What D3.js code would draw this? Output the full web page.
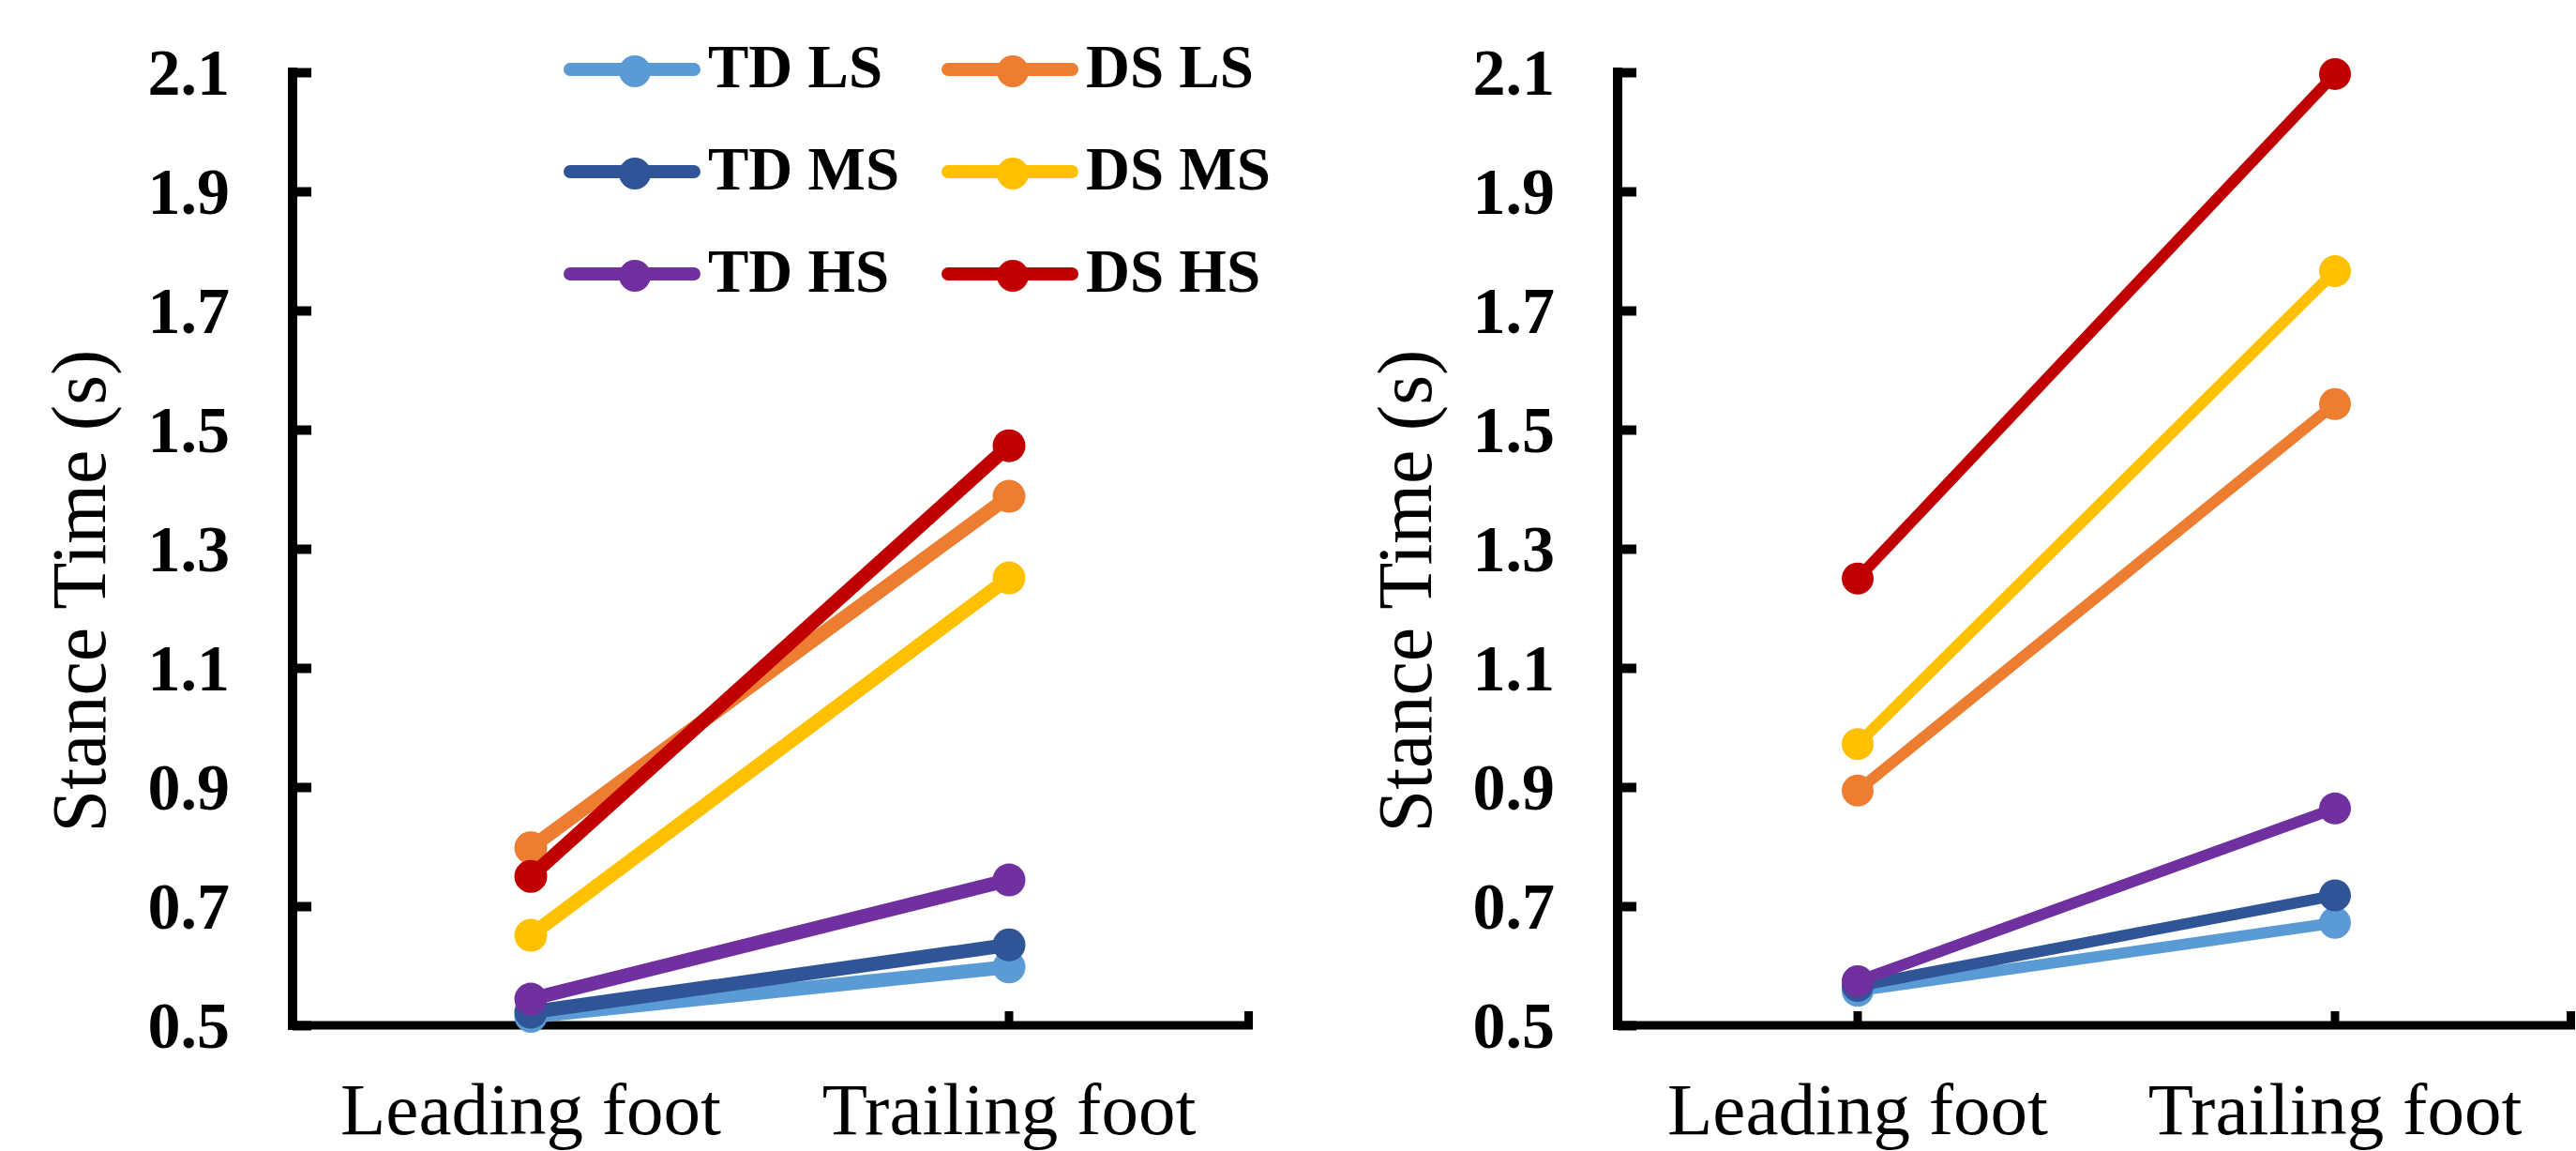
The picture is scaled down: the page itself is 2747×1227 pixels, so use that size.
<!DOCTYPE html>
<html>
<head>
<meta charset="utf-8">
<script src="https://cdn.jsdelivr.net/npm/d3@7"></script>
<style>
  html, body { margin: 0; padding: 0; background: #ffffff; }
  svg { display: block; }
  text { font-family: "Liberation Serif", "Times New Roman", Times, serif; fill: #000; }
</style>
</head>
<body>
<svg id="chart" width="2747" height="1227"></svg>
<script>
// ---------- data ----------
const categories = ["Leading foot", "Trailing foot"];
const seriesNames = ["TD LS", "DS LS", "TD MS", "DS MS", "TD HS", "DS HS"];
const seriesColors = ["#5B9BD5", "#ED7D31", "#2F5597", "#FFC000", "#7030A0", "#C00000"];
const yTickValues = [0.5, 0.7, 0.9, 1.1, 1.3, 1.5, 1.7, 1.9, 2.1];
const yAxisTitle = "Stance Time (s)";

// left panel values [Leading foot, Trailing foot]
const leftTdLs = [0.515, 0.598];
const leftDsLs = [0.798, 1.388];
const leftTdMs = [0.522, 0.635];
const leftDsMs = [0.651, 1.251];
const leftTdHs = [0.544, 0.744];
const leftDsHs = [0.750, 1.473];

// right panel values [Leading foot, Trailing foot]
const rightTdLs = [0.558, 0.672];
const rightDsLs = [0.894, 1.543];
const rightTdMs = [0.566, 0.718];
const rightDsMs = [0.972, 1.766];
const rightTdHs = [0.574, 0.864];
const rightDsHs = [1.250, 2.097];

const leftSeries = [leftTdLs, leftDsLs, leftTdMs, leftDsMs, leftTdHs, leftDsHs];
const rightSeries = [rightTdLs, rightDsLs, rightTdMs, rightDsMs, rightTdHs, rightDsHs];

// ---------- drawing ----------
const svg = d3.select("#chart");
const FONT_TICK = 70, FONT_LABEL = 79, FONT_TITLE = 82, FONT_LEGEND = 65;

const y = d3.scaleLinear().domain([0.5, 2.1]).range([1093, 77]);

function drawPanel(axisX, endX, catRange, seriesData, lineW, markerR, titleX) {
  const g = svg.append("g");
  const x = d3.scalePoint().domain(categories).range(catRange);

  // y axis (ticks inward)
  const yAxis = d3.axisLeft(y).tickValues(yTickValues)
    .tickSizeInner(-20).tickSizeOuter(0).tickPadding(67)
    .tickFormat(d3.format(".1f"));
  const ya = g.append("g").attr("transform", `translate(${axisX},0)`).call(yAxis);
  ya.select(".domain").remove();
  ya.selectAll(".tick line").attr("stroke", "#000").attr("stroke-width", 10);
  ya.selectAll(".tick text")
    .attr("font-size", FONT_TICK).attr("font-weight", "bold")
    .attr("font-family", "Liberation Serif, Times New Roman, serif")
    .attr("fill", "#000").attr("dy", "0.33em");
  g.append("line")
    .attr("x1", axisX).attr("x2", axisX)
    .attr("y1", y(2.1) - 5).attr("y2", y(0.5) + 5)
    .attr("stroke", "#000").attr("stroke-width", 10);

  // x axis
  g.append("line")
    .attr("x1", axisX - 5).attr("x2", endX)
    .attr("y1", y(0.5)).attr("y2", y(0.5))
    .attr("stroke", "#000").attr("stroke-width", 9);
  const xTickPos = categories.map(c => x(c)).concat([endX - 4.5]);
  g.selectAll(".xtick").data(xTickPos).enter().append("line")
    .attr("x1", d => d).attr("x2", d => d)
    .attr("y1", y(0.5)).attr("y2", y(0.5) - 15)
    .attr("stroke", "#000").attr("stroke-width", 9);
  g.selectAll(".xlab").data(categories).enter().append("text")
    .attr("x", d => x(d)).attr("y", 1209)
    .attr("text-anchor", "middle")
    .attr("font-size", FONT_LABEL)
    .text(d => d);

  // y title
  g.append("text")
    .attr("transform", `translate(${titleX},630) rotate(-90)`)
    .attr("text-anchor", "middle")
    .attr("font-size", FONT_TITLE)
    .text(yAxisTitle);

  // series
  const line = d3.line().x((d, i) => x(categories[i])).y(d => y(d));
  seriesData.forEach((vals, si) => {
    g.append("path").datum(vals)
      .attr("d", line)
      .attr("fill", "none")
      .attr("stroke", seriesColors[si])
      .attr("stroke-width", lineW)
      .attr("stroke-linecap", "round");
    g.selectAll(null).data(vals).enter().append("circle")
      .attr("cx", (d, i) => x(categories[i]))
      .attr("cy", d => y(d))
      .attr("r", markerR)
      .attr("fill", seriesColors[si]);
  });
}

drawPanel(312, 1336, [566, 1076], leftSeries, 15, 17.5, 112);
drawPanel(1725, 2746, [1981, 2490], rightSeries, 12, 17, 1526);

// legend (row-wise, two columns)
const legend = svg.append("g");
const legRowY = [74, 183, 292];
const legColX = [601, 1004];
seriesNames.forEach((name, i) => {
  const col = i % 2, row = Math.floor(i / 2);
  const lx = legColX[col], ly = legRowY[row];
  legend.append("line")
    .attr("x1", lx + 7).attr("x2", lx + 139)
    .attr("y1", ly).attr("y2", ly)
    .attr("stroke", seriesColors[i]).attr("stroke-width", 14)
    .attr("stroke-linecap", "round");
  legend.append("circle")
    .attr("cx", lx + 76).attr("cy", ly + 2).attr("r", 17)
    .attr("fill", seriesColors[i]);
  legend.append("text")
    .attr("x", lx + 154).attr("y", ly + 19)
    .attr("font-size", FONT_LEGEND).attr("font-weight", "bold")
    .text(name);
});
</script>
</body>
</html>
